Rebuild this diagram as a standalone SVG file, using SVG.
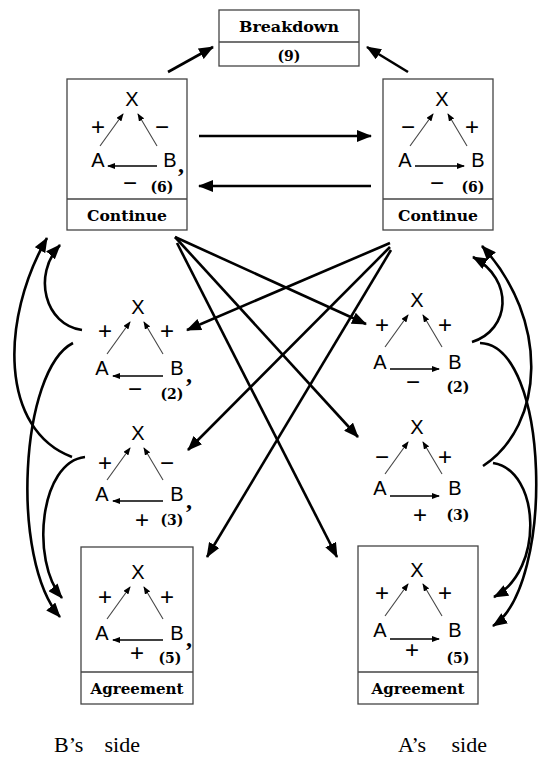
<svg xmlns="http://www.w3.org/2000/svg" width="545" height="760" viewBox="0 0 545 760">
<defs>
<style>
.sym{font-family:"Liberation Sans",Arial,sans-serif;font-size:20px;text-anchor:middle;fill:#000}
.sg{font-family:"Liberation Sans",Arial,sans-serif;font-size:24px;text-anchor:middle;fill:#000}
.lbl{font-family:"DejaVu Serif","Liberation Serif",serif;font-weight:bold;font-size:14px;text-anchor:middle;fill:#000}
.num{font-family:"DejaVu Serif","Liberation Serif",serif;font-weight:bold;font-size:14px;text-anchor:middle;fill:#000}
.cm{font-family:"Liberation Serif",serif;font-weight:bold;font-size:24px;text-anchor:middle;fill:#000}
.box{fill:#fff;stroke:#444;stroke-width:1.3}
.div{stroke:#444;stroke-width:1.3}
.edge{stroke:#444;stroke-width:1.1;marker-end:url(#sm)}
.hedge{stroke:#000;stroke-width:1.3;marker-end:url(#sm)}
.conn{fill:none;stroke:#000;stroke-width:2.6;marker-end:url(#big)}
.side{font-family:"Liberation Serif","Times New Roman",serif;font-size:22px;fill:#000}
</style>
<marker id="big" markerUnits="userSpaceOnUse" markerWidth="15" markerHeight="12" refX="14" refY="6" orient="auto"><path d="M0,0 L15,6 L0,12 z" fill="#000"/></marker>
<marker id="sm" markerUnits="userSpaceOnUse" markerWidth="8" markerHeight="6" refX="7" refY="3" orient="auto"><path d="M0,0 L8,3 L0,6 z" fill="#000"/></marker>
</defs>
<rect width="545" height="760" fill="#fff"/>

<g id="breakdown">
<rect class="box" x="219" y="10" width="140" height="56"/>
<line class="div" x1="219" y1="42" x2="359" y2="42"/>
<text class="lbl" x="289" y="32" textLength="100" lengthAdjust="spacingAndGlyphs">Breakdown</text>
<text class="num" x="289" y="61">(9)</text>
</g>

<g id="continue-B" transform="translate(132,99)">
<rect class="box" x="-65" y="-20" width="120" height="151"/>
<line class="div" x1="-65" y1="100" x2="55" y2="100"/>
<text class="lbl" x="-5" y="122" textLength="80" lengthAdjust="spacingAndGlyphs">Continue</text>
<text class="sym" x="0" y="7">X</text>
<text class="sg" x="-34" y="36">+</text>
<text class="sg" x="30" y="36">−</text>
<text class="sym" x="-34" y="68">A</text>
<text class="sym" x="38" y="68">B</text>
<line class="edge" x1="-32" y1="47" x2="-9" y2="15"/>
<line class="edge" x1="25" y1="47" x2="6" y2="15"/>
<line class="hedge" x1="25" y1="67" x2="-24" y2="67"/>
<text class="sg" x="-2" y="92">−</text>
<text class="num" x="30" y="93">(6)</text>
<text class="cm" x="49" y="73">,</text>
</g>

<g id="continue-A" transform="translate(442,99)">
<rect class="box" x="-59" y="-20" width="110" height="151"/>
<line class="div" x1="-59" y1="100" x2="51" y2="100"/>
<text class="lbl" x="-4" y="122" textLength="80" lengthAdjust="spacingAndGlyphs">Continue</text>
<text class="sym" x="0" y="7">X</text>
<text class="sg" x="-34" y="36">−</text>
<text class="sg" x="30" y="36">+</text>
<text class="sym" x="-37" y="68">A</text>
<text class="sym" x="36" y="68">B</text>
<line class="edge" x1="-32" y1="47" x2="-9" y2="15"/>
<line class="edge" x1="25" y1="47" x2="6" y2="15"/>
<line class="hedge" x1="-27" y1="67" x2="22" y2="67"/>
<text class="sg" x="-5" y="92">−</text>
<text class="num" x="31" y="93">(6)</text>
</g>

<g id="state2-B" transform="translate(138,307)">
<text class="sym" x="0" y="7">X</text>
<text class="sg" x="-33" y="32">+</text>
<text class="sg" x="29" y="32">+</text>
<text class="sym" x="-36" y="68">A</text>
<text class="sym" x="39" y="68">B</text>
<line class="edge" x1="-31" y1="47" x2="-8" y2="15"/>
<line class="edge" x1="25" y1="47" x2="6" y2="15"/>
<line class="hedge" x1="25" y1="69" x2="-25" y2="69"/>
<text class="sg" x="-3" y="90">−</text>
<text class="num" x="34" y="92">(2)</text>
<text class="cm" x="51" y="75">,</text>
</g>

<g id="state2-A" transform="translate(417,300)">
<text class="sym" x="0" y="7">X</text>
<text class="sg" x="-35" y="33">+</text>
<text class="sg" x="28" y="33">+</text>
<text class="sym" x="-37" y="69">A</text>
<text class="sym" x="38" y="69">B</text>
<line class="edge" x1="-32" y1="47" x2="-9" y2="15"/>
<line class="edge" x1="25" y1="47" x2="6" y2="15"/>
<line class="hedge" x1="-27" y1="69" x2="22" y2="69"/>
<text class="sg" x="-4" y="90">−</text>
<text class="num" x="41" y="92">(2)</text>
</g>

<g id="state3-B" transform="translate(138,433)">
<text class="sym" x="0" y="7">X</text>
<text class="sg" x="-33" y="38">+</text>
<text class="sg" x="29" y="38">−</text>
<text class="sym" x="-36" y="68">A</text>
<text class="sym" x="39" y="68">B</text>
<line class="edge" x1="-31" y1="47" x2="-8" y2="15"/>
<line class="edge" x1="25" y1="47" x2="6" y2="15"/>
<line class="hedge" x1="25" y1="68" x2="-25" y2="68"/>
<text class="sg" x="4" y="95">+</text>
<text class="num" x="34" y="92">(3)</text>
<text class="cm" x="51" y="75">,</text>
</g>

<g id="state3-A" transform="translate(417,427)">
<text class="sym" x="0" y="7">X</text>
<text class="sg" x="-35" y="38">−</text>
<text class="sg" x="28" y="38">+</text>
<text class="sym" x="-37" y="68">A</text>
<text class="sym" x="38" y="68">B</text>
<line class="edge" x1="-32" y1="47" x2="-9" y2="15"/>
<line class="edge" x1="25" y1="47" x2="6" y2="15"/>
<line class="hedge" x1="-27" y1="69" x2="22" y2="69"/>
<text class="sg" x="3" y="96">+</text>
<text class="num" x="41" y="93">(3)</text>
</g>

<g id="agreement-B" transform="translate(138,572)">
<rect class="box" x="-57" y="-25" width="112" height="157"/>
<line class="div" x1="-57" y1="100" x2="55" y2="100"/>
<text class="lbl" x="-1" y="122" textLength="93" lengthAdjust="spacingAndGlyphs">Agreement</text>
<text class="sym" x="0" y="7">X</text>
<text class="sg" x="-33" y="33">+</text>
<text class="sg" x="29" y="33">+</text>
<text class="sym" x="-36" y="68">A</text>
<text class="sym" x="39" y="68">B</text>
<line class="edge" x1="-31" y1="47" x2="-8" y2="15"/>
<line class="edge" x1="25" y1="47" x2="6" y2="15"/>
<line class="hedge" x1="25" y1="68" x2="-25" y2="68"/>
<text class="sg" x="-1" y="89">+</text>
<text class="num" x="32" y="91">(5)</text>
<text class="cm" x="51" y="74">,</text>
</g>

<g id="agreement-A" transform="translate(417,570)">
<rect class="box" x="-59" y="-24" width="120" height="158"/>
<line class="div" x1="-59" y1="102" x2="61" y2="102"/>
<text class="lbl" x="1" y="124" textLength="93" lengthAdjust="spacingAndGlyphs">Agreement</text>
<text class="sym" x="0" y="7">X</text>
<text class="sg" x="-35" y="31">+</text>
<text class="sg" x="28" y="31">+</text>
<text class="sym" x="-37" y="67">A</text>
<text class="sym" x="38" y="67">B</text>
<line class="edge" x1="-32" y1="46" x2="-9" y2="14"/>
<line class="edge" x1="25" y1="46" x2="6" y2="14"/>
<line class="hedge" x1="-27" y1="69" x2="22" y2="69"/>
<text class="sg" x="-5" y="88">+</text>
<text class="num" x="41" y="93">(5)</text>
</g>

<g id="connectors">
<line class="conn" x1="168" y1="72" x2="213" y2="47"/>
<line class="conn" x1="408" y1="72" x2="367" y2="47"/>
<line class="conn" x1="199" y1="136" x2="371" y2="136"/>
<line class="conn" x1="371" y1="186" x2="199" y2="186"/>
<line class="conn" x1="175" y1="237" x2="366" y2="324"/>
<line class="conn" x1="175" y1="237" x2="358" y2="437"/>
<line class="conn" x1="177" y1="243" x2="337" y2="557"/>
<line class="conn" x1="390" y1="243" x2="187" y2="330"/>
<line class="conn" x1="390" y1="247" x2="188" y2="450"/>
<line class="conn" x1="391" y1="250" x2="207" y2="557"/>
<path class="conn" d="M82,330 C45,325 32,275 60,245"/>
<path class="conn" d="M72,457 C0,430 0,320 47,238"/>
<path class="conn" d="M73,343 C20,370 10,560 60,617"/>
<path class="conn" d="M85,457 C40,462 30,560 62,598"/>
<path class="conn" d="M472,342 C510,330 515,280 473,257"/>
<path class="conn" d="M483,466 C545,425 550,320 482,246"/>
<path class="conn" d="M480,343 C550,345 555,585 493,626"/>
<path class="conn" d="M493,463 C540,470 545,570 494,597"/>
</g>

<g id="side-labels">
<text class="side" x="54" y="752">B’s</text>
<text class="side" x="140" y="752" text-anchor="end">side</text>
<text class="side" x="398" y="752">A’s</text>
<text class="side" x="487" y="752" text-anchor="end">side</text>
</g>
</svg>
